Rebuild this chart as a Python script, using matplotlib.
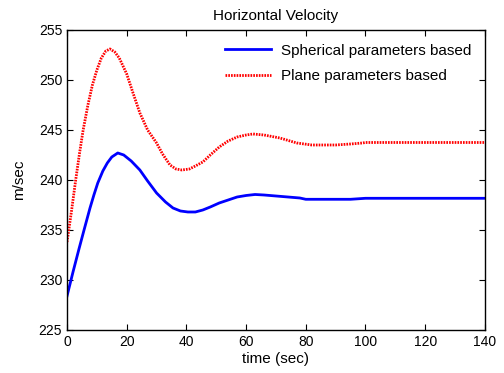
"""plot.py - horizontal velocity comparison, MATLAB-style figure."""

import matplotlib
matplotlib.use("Agg")
from matplotlib import pyplot as plt

# Data
# ---------------------------

t_spherical = [0, 2, 4, 5.7, 7.7, 9, 10.3, 12, 13.5, 15, 17, 19, 21.5, 24.4, 27, 30,
               33, 35.5, 38, 40.5, 43, 45.5, 48, 51, 54, 57, 60, 63, 66, 70, 74,
               78, 80, 85, 90, 95, 100, 110, 120, 130, 140]
v_spherical = [228.4, 230.8, 233.1, 235.0, 237.2, 238.5, 239.7, 240.9, 241.7, 242.3,
               242.7, 242.5, 241.9, 241.0, 239.9, 238.7, 237.8, 237.2, 236.9, 236.8,
               236.8, 237.0, 237.3, 237.7, 238.0, 238.3, 238.45, 238.55, 238.5, 238.4,
               238.3, 238.2, 238.07, 238.07, 238.07, 238.07, 238.17, 238.17, 238.17,
               238.17, 238.17]

t_plane = [0, 1.5, 2.9, 4.2, 5.4, 7, 8.5, 10, 11.5, 13, 14.4, 16, 17.5, 20, 22, 24.4,
           27, 30, 32, 34.5, 36.5, 38.5, 41, 43, 45.5, 48, 51, 54, 57, 60, 62.3, 66,
           71.3, 77, 82, 90, 95, 99, 100, 110, 120, 130, 140]
v_plane = [233.8, 236.9, 240.0, 242.7, 245.0, 247.5, 249.5, 251.0, 252.2, 252.9,
           253.1, 252.8, 252.2, 250.6, 248.8, 246.7, 245.0, 243.7, 242.6, 241.5,
           241.1, 241.0, 241.1, 241.4, 241.8, 242.5, 243.3, 243.9, 244.3, 244.5,
           244.6, 244.5, 244.2, 243.7, 243.5, 243.5, 243.6, 243.7, 243.75, 243.75,
           243.75, 243.75, 243.75]

x_ticks = [0, 20, 40, 60, 80, 100, 120, 140]
y_ticks = [225, 230, 235, 240, 245, 250, 255]

# Plotting
# --------

plt.rcParams["font.family"] = ["Liberation Sans", "DejaVu Sans"]

fig = plt.figure(figsize=(5.04, 3.73), dpi=100)
ax = fig.add_axes([0.133, 0.1153, 0.829, 0.8043])

ax.plot(t_spherical, v_spherical, color="#0000ff", linewidth=2.0,
        label="Spherical parameters based")
ax.plot(t_plane, v_plane, color="#ff0000", linewidth=2.0, linestyle=(0, (0.6, 0.4)),
        label="Plane parameters based")

# Stylizing
# ---------

ax.set_xlim(0, 140)
ax.set_ylim(225, 255)
ax.set_xticks(x_ticks)
ax.set_yticks(y_ticks)
ax.tick_params(direction="in", top=True, right=True, labelsize=10, length=4, width=0.8)
for spine in ax.spines.values():
    spine.set_linewidth(1.0)

ax.set_title("Horizontal Velocity", fontsize=11, pad=7.5)
ax.set_xlabel("time (sec)", fontsize=11, labelpad=2)
ax.set_ylabel("m/sec", fontsize=11, labelpad=9)

ax.legend(loc="upper right", frameon=False, fontsize=11, handlelength=3.0,
          handletextpad=0.65, labelspacing=0.75, borderaxespad=0.5)

fig.savefig("out.png", dpi=100)
